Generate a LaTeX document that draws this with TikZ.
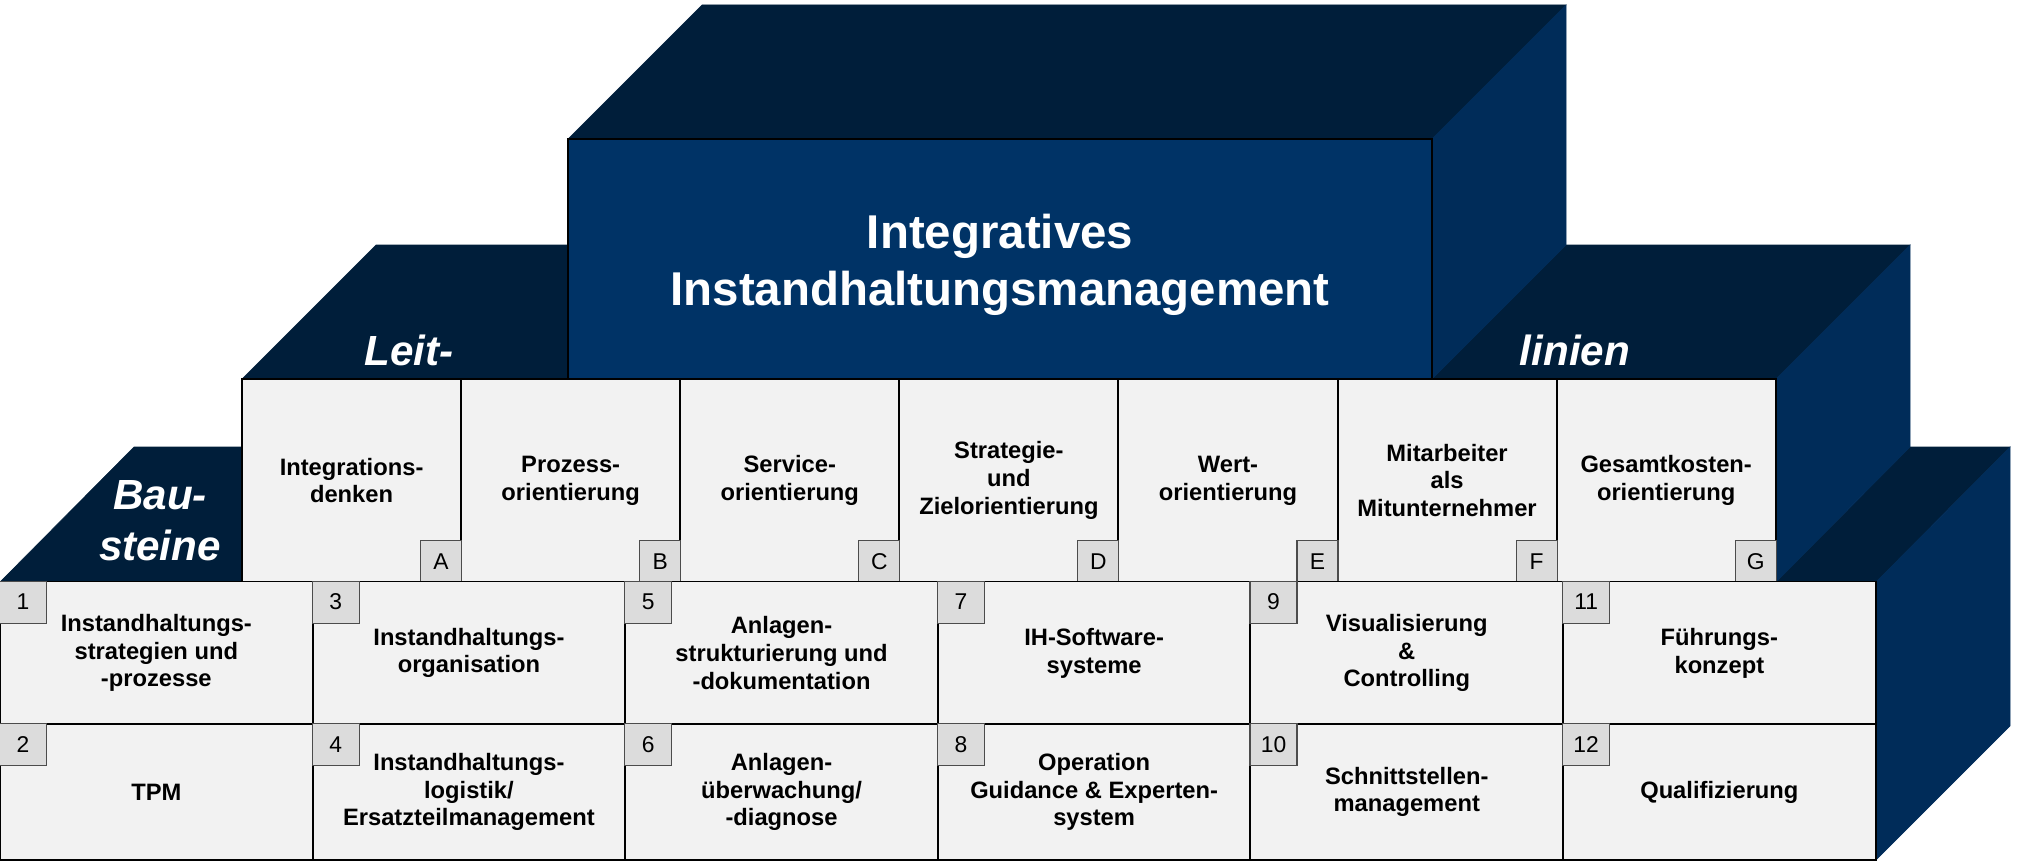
\documentclass[tikz,border=0pt]{standalone}
\usepackage{fontspec}
\setmainfont{Liberation Sans}
\usepackage{tikz}
\usetikzlibrary{positioning}

\definecolor{topface}{RGB}{0,30,58}
\definecolor{sideface}{RGB}{0,44,89}
\definecolor{frontface}{RGB}{0,51,102}
\definecolor{boxfill}{RGB}{242,242,242}
\definecolor{tagfill}{RGB}{220,220,220}

\newcommand{\boxfont}{\fontsize{13.5}{15.8}\selectfont\bfseries}
\newcommand{\tagfont}{\fontsize{13}{15}\selectfont}
\newcommand{\titlefont}{\fontsize{27}{32.4}\selectfont\bfseries}
\newcommand{\lblfont}{\fontsize{24}{29}\selectfont\bfseries\itshape}

\begin{document}
\begin{tikzpicture}[x=0.02cm,y=-0.02cm,node distance=6.2533cm]
  \tikzstyle{topf}=[fill=topface,draw=topface,line width=0.3pt]
  \tikzstyle{sidef}=[fill=sideface,draw=sideface,line width=0.3pt]
  \tikzstyle{frontf}=[fill=frontface,draw=black,line width=1.1pt]
  \tikzstyle{title}=[inner sep=0pt,align=center,text=white,font=\titlefont]
  \tikzstyle{leit}=[draw=black,fill=boxfill,line width=1.1pt,inner sep=0pt,
                    minimum width=4.3829cm,minimum height=4.06cm,align=center,
                    font=\boxfont,node distance=4.3829cm]
  \tikzstyle{baustein}=[draw=black,fill=boxfill,line width=1.1pt,inner sep=0pt,
                        minimum width=6.2533cm,minimum height=2.86cm,align=center,
                        font=\boxfont]
  \tikzstyle{bslow}=[baustein,minimum height=2.72cm,node distance=2.78cm]
  \tikzstyle{numtag}=[draw=black!70,fill=tagfill,line width=0.6pt,inner sep=0pt,
                      minimum width=0.94cm,minimum height=0.84cm,font=\tagfont,
                      anchor=north west]
  \tikzstyle{lettag}=[numtag,minimum width=0.82cm,anchor=south east]
  \tikzstyle{lbl}=[text=white,font=\lblfont,inner sep=0pt,align=center]

  \useasboundingbox (0,0) rectangle (2017,865);

  % Bausteine layer
  \fill[topf] (0,582) -- (134,447) -- (242,447) -- (242,582) -- cycle;
  \fill[topf] (1776,582) -- (1910,447) -- (2010,447) -- (1876,582) -- cycle;
  \fill[sidef] (1876,582) -- (2010,447) -- (2010,726) -- (1876,860) -- cycle;
  % Leitlinien layer
  \fill[topf] (242,379) -- (376,245) -- (568,245) -- (568,379) -- cycle;
  \fill[topf] (1432,379) -- (1566,245) -- (1910,245) -- (1776,379) -- cycle;
  \fill[sidef] (1776,379) -- (1910,245) -- (1910,447) -- (1776,582) -- cycle;
  % top block
  \fill[topf] (568,139) -- (702,5) -- (1566,5) -- (1432,139) -- cycle;
  \fill[sidef] (1432,139) -- (1566,5) -- (1566,245) -- (1432,379) -- cycle;
  \filldraw[frontf] (568,139) rectangle (1432,379);

  \node[title] (IHM) at (1000,265) {Integratives\\Instandhaltungsmanagement};

  \node[lbl,anchor=base] (leit) at (409,365) {Leit-};
  \node[lbl,anchor=base] (linien) at (1575,365) {linien};
  \node[lbl] (bau) at (160,521) {Bau-\\steine};

  % Leitlinien
  \node[leit] (LA) at (351.57,480.5) {Integrations-\\denken};
  \node[leit] (LB) [right of=LA] {Prozess-\\orientierung};
  \node[leit] (LC) [right of=LB] {Service-\\orientierung};
  \node[leit] (LD) [right of=LC] {Strategie-\\und\\Zielorientierung};
  \node[leit] (LE) [right of=LD] {Wert-\\orientierung};
  \node[leit] (LF) [right of=LE] {Mitarbeiter\\als\\Mitunternehmer};
  \node[leit] (LG) [right of=LF] {Gesamtkosten-\\orientierung};

  \node[lettag] (tA) at (LA.south east) {A};
  \node[lettag] (tB) at (LB.south east) {B};
  \node[lettag] (tC) at (LC.south east) {C};
  \node[lettag] (tD) at (LD.south east) {D};
  \node[lettag] (tE) at (LE.south east) {E};
  \node[lettag] (tF) at (LF.south east) {F};
  \node[lettag] (tG) at (LG.south east) {G};

  % Bausteine
  \node[baustein] (B1) at (156.33,653) {Instandhaltungs-\\strategien und\\-prozesse};
  \node[bslow] (B2) [below of=B1] {TPM};
  \node[baustein] (B3) [right of=B1] {Instandhaltungs-\\organisation};
  \node[bslow] (B4) [below of=B3] {Instandhaltungs-\\logistik/\\Ersatzteilmanagement};
  \node[baustein] (B5) [right of=B3] {Anlagen-\\strukturierung und\\-dokumentation};
  \node[bslow] (B6) [below of=B5] {Anlagen-\\überwachung/\\-diagnose};
  \node[baustein] (B7) [right of=B5] {IH-Software-\\systeme};
  \node[bslow] (B8) [below of=B7] {Operation\\Guidance \& Experten-\\system};
  \node[baustein] (B9) [right of=B7] {Visualisierung\\\&\\Controlling};
  \node[bslow] (B10) [below of=B9] {Schnittstellen-\\management};
  \node[baustein] (B11) [right of=B9] {Führungs-\\konzept};
  \node[bslow] (B12) [below of=B11] {Qualifizierung};

  \node[numtag] (n1) at (B1.north west) {1};
  \node[numtag] (n2) at (B2.north west) {2};
  \node[numtag] (n3) at (B3.north west) {3};
  \node[numtag] (n4) at (B4.north west) {4};
  \node[numtag] (n5) at (B5.north west) {5};
  \node[numtag] (n6) at (B6.north west) {6};
  \node[numtag] (n7) at (B7.north west) {7};
  \node[numtag] (n8) at (B8.north west) {8};
  \node[numtag] (n9) at (B9.north west) {9};
  \node[numtag] (n10) at (B10.north west) {10};
  \node[numtag] (n11) at (B11.north west) {11};
  \node[numtag] (n12) at (B12.north west) {12};
\end{tikzpicture}
\end{document}
